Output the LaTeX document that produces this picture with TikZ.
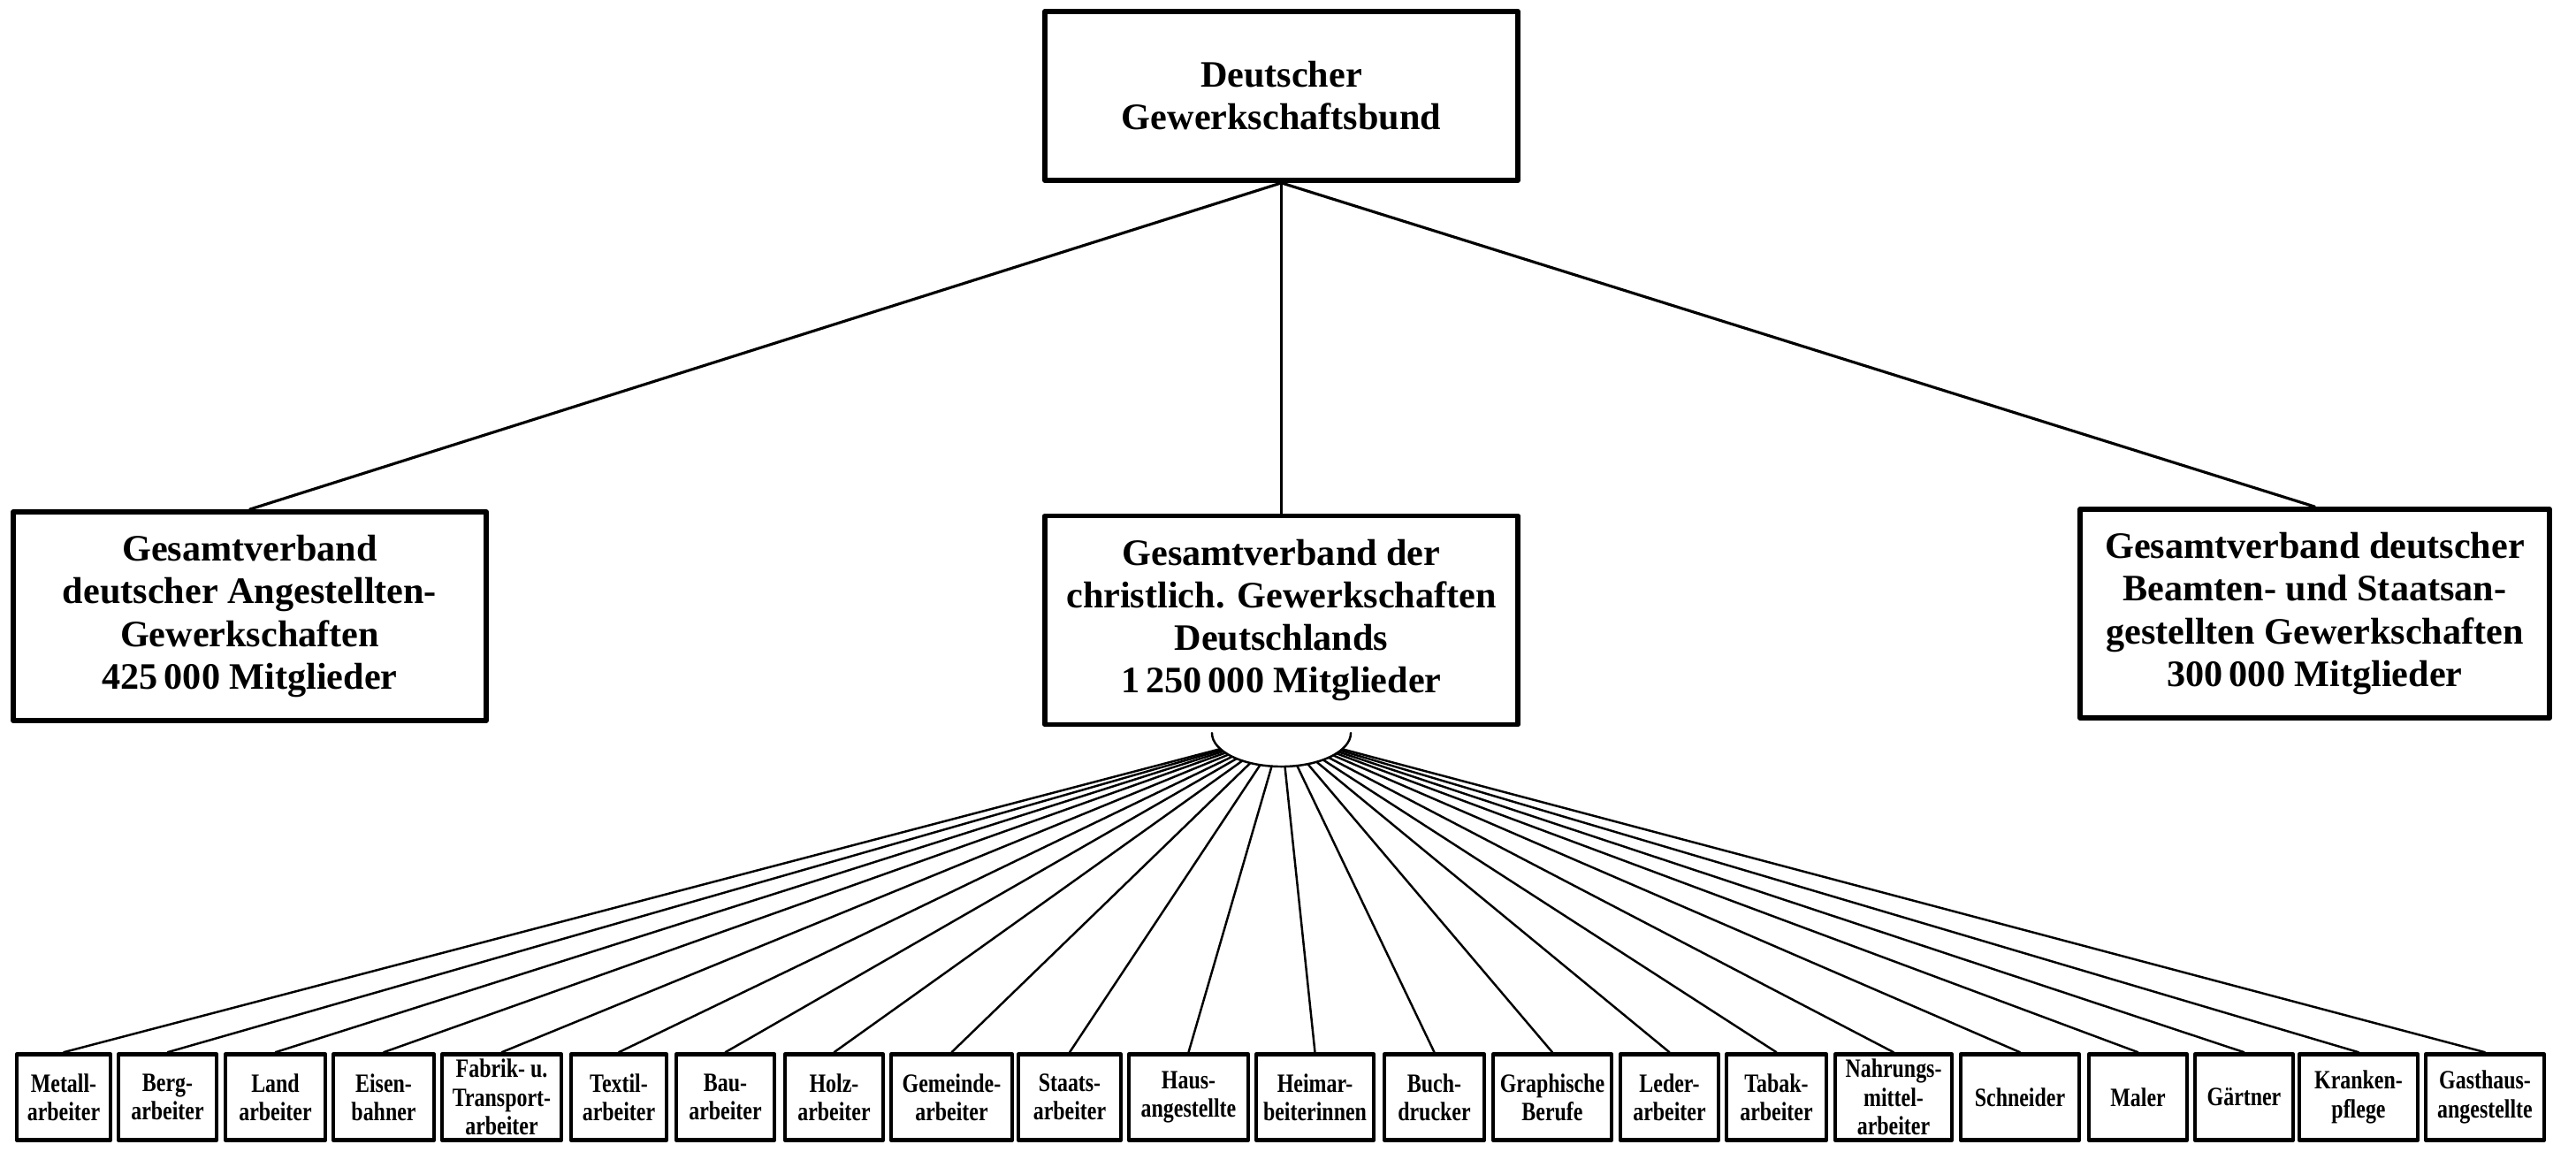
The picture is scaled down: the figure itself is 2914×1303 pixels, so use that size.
\documentclass[tikz,border=0pt]{standalone}
\usepackage{tikz}
\usepackage{fontspec}
\setmainfont{Liberation Serif}
\newfontfamily\schmal[FakeStretch=0.8]{Liberation Serif}
\usetikzlibrary{shapes.geometric}
\tikzset{
  bund/.style={draw,line width=1.6pt,minimum width=5.35cm,minimum height=1.91cm,align=center,inner sep=2pt,font=\bfseries\fontsize{12}{13.7}\selectfont},
  verband/.style={bund,minimum height=2.36cm},
  fach/.style={draw,line width=1.3pt,minimum height=0.97cm,align=center,inner sep=1pt,font=\schmal\bfseries\fontsize{8.5}{9.2}\selectfont},
  ast/.style={line width=0.9pt},
  strahl/.style={line width=0.7pt}
}
\begin{document}
\begin{tikzpicture}[line cap=round,line join=round,x=0.01cm,y=-0.01cm]
\useasboundingbox (0,0) rectangle (2914,1303);
\node[bund] (dgb) at (1449.5,108.5) {Deutscher\\Gewerkschaftsbund};
\node[verband] (angest) at (282.5,697) {Gesamtverband\\deutscher Angestellten-\\Gewerkschaften\\425\,000 Mitglieder};
\node[verband] (christl) at (1449.5,701.5) {Gesamtverband der\\christlich. Gewerkschaften\\Deutschlands\\1\,250\,000 Mitglieder};
\node[verband,minimum width=5.31cm] (beamte) at (2618.5,694) {Gesamtverband deutscher\\Beamten- und Staatsan-\\gestellten Gewerkschaften\\300\,000 Mitglieder};
\draw[ast] (dgb.south) -- (angest.north);
\draw[ast] (dgb.south) -- (christl.north);
\draw[ast] (dgb.south) -- (beamte.north);
\node[ellipse,minimum width=1.57cm,minimum height=0.76cm,inner sep=0pt,outer sep=0pt] (fan) at (1449.5,829) {};
\draw[strahl] (fan.west) arc[start angle=180,end angle=360,x radius=0.785cm,y radius=0.38cm];
\node[fach,minimum width=1.06cm] (metall) at (72,1241) {Metall-\\arbeiter};
\node[fach,minimum width=1.11cm] (berg) at (189.5,1241) {Berg-\\arbeiter};
\node[fach,minimum width=1.13cm] (land) at (311.5,1241) {Land\\arbeiter};
\node[fach,minimum width=1.14cm] (eisen) at (434,1241) {Eisen-\\bahner};
\node[fach,minimum width=1.35cm] (fabrik) at (567.5,1241) {Fabrik- u.\\Transport-\\arbeiter};
\node[fach,minimum width=1.08cm] (textil) at (700,1241) {Textil-\\arbeiter};
\node[fach,minimum width=1.11cm] (bau) at (820.5,1241) {Bau-\\arbeiter};
\node[fach,minimum width=1.11cm] (holz) at (943.5,1241) {Holz-\\arbeiter};
\node[fach,minimum width=1.37cm] (gemeinde) at (1076.5,1241) {Gemeinde-\\arbeiter};
\node[fach,minimum width=1.16cm] (staats) at (1210,1241) {Staats-\\arbeiter};
\node[fach,minimum width=1.35cm] (haus) at (1344.5,1241) {Haus-\\angestellte};
\node[fach,minimum width=1.33cm] (heim) at (1487.5,1241) {Heimar-\\beiterinnen};
\node[fach,minimum width=1.13cm] (buch) at (1622.5,1241) {Buch-\\drucker};
\node[fach,minimum width=1.34cm] (graph) at (1756,1241) {Graphische\\Berufe};
\node[fach,minimum width=1.11cm] (leder) at (1888.5,1241) {Leder-\\arbeiter};
\node[fach,minimum width=1.13cm] (tabak) at (2009.5,1241) {Tabak-\\arbeiter};
\node[fach,minimum width=1.32cm] (nahrung) at (2142,1241) {Nahrungs-\\mittel-\\arbeiter};
\node[fach,minimum width=1.34cm] (schneider) at (2285,1241) {Schneider};
\node[fach,minimum width=1.11cm] (maler) at (2418.5,1241) {Maler};
\node[fach,minimum width=1.11cm] (gaertner) at (2538.5,1241) {Gärtner};
\node[fach,minimum width=1.34cm] (kranken) at (2668,1241) {Kranken-\\pflege};
\node[fach,minimum width=1.34cm] (gasthaus) at (2811,1241) {Gasthaus-\\angestellte};
\draw[strahl] (fan) -- (metall.north);
\draw[strahl] (fan) -- (berg.north);
\draw[strahl] (fan) -- (land.north);
\draw[strahl] (fan) -- (eisen.north);
\draw[strahl] (fan) -- (fabrik.north);
\draw[strahl] (fan) -- (textil.north);
\draw[strahl] (fan) -- (bau.north);
\draw[strahl] (fan) -- (holz.north);
\draw[strahl] (fan) -- (gemeinde.north);
\draw[strahl] (fan) -- (staats.north);
\draw[strahl] (fan) -- (haus.north);
\draw[strahl] (fan) -- (heim.north);
\draw[strahl] (fan) -- (buch.north);
\draw[strahl] (fan) -- (graph.north);
\draw[strahl] (fan) -- (leder.north);
\draw[strahl] (fan) -- (tabak.north);
\draw[strahl] (fan) -- (nahrung.north);
\draw[strahl] (fan) -- (schneider.north);
\draw[strahl] (fan) -- (maler.north);
\draw[strahl] (fan) -- (gaertner.north);
\draw[strahl] (fan) -- (kranken.north);
\draw[strahl] (fan) -- (gasthaus.north);
\end{tikzpicture}
\end{document}
